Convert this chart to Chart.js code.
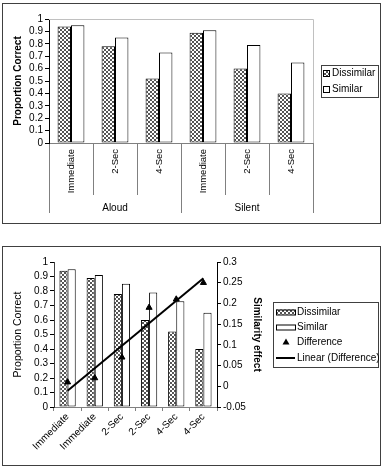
<!DOCTYPE html>
<html>
<head>
<meta charset="utf-8">
<script src="https://cdn.jsdelivr.net/npm/chart.js@4/dist/chart.umd.min.js"></script>
<style>
  body { margin: 0; background: #fff; }
  .box { position: absolute; left: 2px; border: 1px solid #404040; background: #fff; }
  #boxOne { top: 3px; width: 377px; height: 219px; }
  #boxTwo { top: 246px; width: 377px; height: 218px; }
  canvas { display: block; }
</style>
</head>
<body>
<div class="box" id="boxOne"><canvas id="chartOne" width="377" height="219"></canvas></div>
<div class="box" id="boxTwo"><canvas id="chartTwo" width="377" height="218"></canvas></div>
<script>
// top chart: grouped by mode
const groups = ['Aloud', 'Silent'];
const conditions = ['Immediate', '2-Sec', '4-Sec', 'Immediate', '2-Sec', '4-Sec'];
const dissimilarTop = [0.94, 0.78, 0.52, 0.89, 0.60, 0.40];
const similarTop = [0.95, 0.85, 0.73, 0.91, 0.79, 0.65];

// bottom chart: interleaved order + similarity effect
const orderLabels = ['Immediate', 'Immediate', '2-Sec', '2-Sec', '4-Sec', '4-Sec'];
const dissimilarBottom = [0.94, 0.89, 0.78, 0.60, 0.52, 0.40];
const similarBottom = [0.95, 0.91, 0.85, 0.79, 0.73, 0.65];
const difference = [0.01, 0.02, 0.07, 0.19, 0.21, 0.25];
const trendLine = [-0.011, null, null, null, null, 0.261];

const propTicks = [0, 1, 0.1];
const effectTicks = [-0.05, 0.3, 0.05];

Chart.defaults.font.family = 'Liberation Sans, Arial, sans-serif';
Chart.defaults.color = '#000';

// 4px diamond crosshatch, drawn pixel by pixel
function hatch() {
  const c = document.createElement('canvas');
  c.width = 4; c.height = 4;
  const g = c.getContext('2d');
  g.fillStyle = '#fff';
  g.fillRect(0, 0, 4, 4);
  g.fillStyle = '#555';
  for (let i = 0; i < 4; i++) {
    g.fillRect(i, i, 1, 1);
    g.fillRect(3 - i, i, 1, 1);
  }
  return g.createPattern(c, 'repeat');
}
const hatchFill = hatch();

const fmt = v => String(+v.toFixed(2));

// legend drawn inside the canvas
function boxLegend(id, box, items) {
  return {
    id: id,
    afterDraw(chart) {
      const ctx = chart.ctx;
      ctx.save();
      ctx.strokeStyle = '#404040';
      ctx.lineWidth = 1;
      ctx.strokeRect(box.x + 0.5, box.y + 0.5, box.w, box.h);
      ctx.font = '10px Liberation Sans, Arial, sans-serif';
      ctx.textBaseline = 'middle';
      items.forEach(it => {
        ctx.strokeStyle = '#000';
        ctx.fillStyle = '#000';
        if (it.kind === 'rect') {
          ctx.fillStyle = it.fill;
          ctx.fillRect(it.sx, it.y - it.sh / 2, it.sw, it.sh);
          ctx.strokeRect(it.sx + 0.5, it.y - it.sh / 2 + 0.5, it.sw, it.sh);
        } else if (it.kind === 'tri') {
          ctx.beginPath();
          ctx.moveTo(it.sx, it.y - 3.5);
          ctx.lineTo(it.sx + 3.5, it.y + 2.5);
          ctx.lineTo(it.sx - 3.5, it.y + 2.5);
          ctx.closePath();
          ctx.fill();
        } else if (it.kind === 'line') {
          ctx.lineWidth = 2;
          ctx.beginPath();
          ctx.moveTo(it.sx, it.y);
          ctx.lineTo(it.sx + it.sw, it.y);
          ctx.stroke();
          ctx.lineWidth = 1;
        }
        ctx.fillStyle = '#000';
        ctx.fillText(it.text, it.tx, it.y);
      });
      ctx.restore();
    }
  };
}

const plotFrame = {
  id: 'plotFrame',
  beforeDatasetsDraw(chart) {
    const a = chart.chartArea, ctx = chart.ctx;
    ctx.save();
    ctx.strokeStyle = '#c0c0c0';
    ctx.lineWidth = 1;
    ctx.beginPath();
    ctx.moveTo(a.left, a.top + 0.5);
    ctx.lineTo(a.right + 0.5, a.top + 0.5);
    ctx.lineTo(a.right + 0.5, a.bottom);
    ctx.stroke();
    ctx.restore();
  }
};

new Chart(document.getElementById('chartOne'), {
  type: 'bar',
  data: {
    labels: conditions,
    datasets: [
      { label: 'Dissimilar', data: dissimilarTop, backgroundColor: hatchFill },
      { label: 'Similar', data: similarTop, backgroundColor: '#fff' }
    ]
  },
  options: {
    responsive: false,
    animation: false,
    layout: { padding: { left: 0, top: 15, right: 67, bottom: 0 } },
    datasets: {
      bar: { borderColor: '#000', borderWidth: 1, borderSkipped: false, categoryPercentage: 0.61, barPercentage: 1 }
    },
    plugins: { legend: { display: false }, tooltip: { enabled: false } },
    scales: {
      x: {
        weight: 0,
        grid: { drawOnChartArea: false, color: '#808080', tickLength: 52, offset: true },
        border: { color: '#808080' },
        ticks: { autoSkip: false, minRotation: 90, maxRotation: 90, padding: -46, font: { size: 9.5 } },
        afterFit: s => { s.height = 52; }
      },
      x2: {
        type: 'category',
        labels: groups,
        position: 'bottom',
        weight: 1,
        offset: true,
        grid: { drawOnChartArea: false, color: '#808080', tickLength: 18, offset: true },
        border: { display: false },
        ticks: { padding: -11, font: { size: 10 } },
        afterFit: s => { s.height = 28; }
      },
      y: {
        min: propTicks[0], max: propTicks[1],
        grid: { drawOnChartArea: false, color: '#000', tickLength: 4 },
        border: { color: '#000' },
        ticks: { stepSize: propTicks[2], autoSkip: false, padding: 2, font: { size: 10 }, callback: fmt },
        title: { display: true, text: 'Proportion Correct', font: { size: 10, weight: 'bold' }, padding: { top: 9, bottom: 0 } },
        afterFit: s => { s.width = 46; }
      }
    }
  },
  plugins: [plotFrame, boxLegend('legendOne', { x: 318, y: 61, w: 57, h: 32 }, [
    { kind: 'rect', fill: hatchFill, sx: 320, sw: 6, sh: 6, y: 69, tx: 329, text: 'Dissimilar' },
    { kind: 'rect', fill: '#fff', sx: 320, sw: 6, sh: 6, y: 85, tx: 329, text: 'Similar' }
  ])]
});

new Chart(document.getElementById('chartTwo'), {
  data: {
    labels: orderLabels,
    datasets: [
      { type: 'line', label: 'Linear (Difference)', data: trendLine, yAxisID: 'y2', spanGaps: true,
        borderColor: '#000', borderWidth: 2, pointRadius: 0, order: 0 },
      { type: 'line', label: 'Difference', data: difference, yAxisID: 'y2', showLine: false,
        pointStyle: 'triangle', pointRadius: 3.5, pointBackgroundColor: '#000', pointBorderColor: '#000', order: 1 },
      { type: 'bar', label: 'Dissimilar', data: dissimilarBottom, backgroundColor: hatchFill, order: 2 },
      { type: 'bar', label: 'Similar', data: similarBottom, backgroundColor: '#fff', order: 3 }
    ]
  },
  options: {
    responsive: false,
    animation: false,
    layout: { padding: { left: 0, top: 15, right: 113, bottom: 0 } },
    datasets: {
      bar: { borderColor: '#000', borderWidth: 1, borderSkipped: false, categoryPercentage: 0.6, barPercentage: 1 }
    },
    plugins: { legend: { display: false }, tooltip: { enabled: false } },
    scales: {
      x: {
        offset: true,
        grid: { drawOnChartArea: false, color: '#808080', tickLength: 4, offset: true },
        border: { color: '#808080' },
        ticks: { autoSkip: false, minRotation: 45, maxRotation: 45, padding: 0, font: { size: 10 } },
        afterFit: s => { s.height = 58; }
      },
      y: {
        min: propTicks[0], max: propTicks[1],
        grid: { drawOnChartArea: false, color: '#000', tickLength: 4 },
        border: { color: '#404040' },
        ticks: { stepSize: propTicks[2], autoSkip: false, padding: 2, font: { size: 10 }, callback: fmt },
        title: { display: true, text: 'Proportion Correct', font: { size: 10.5 }, padding: { top: 9, bottom: 0 } },
        afterFit: s => { s.width = 51; }
      },
      y2: {
        position: 'right',
        min: effectTicks[0], max: effectTicks[1],
        grid: { drawOnChartArea: false, color: '#000', tickLength: 4 },
        border: { color: '#000' },
        ticks: { stepSize: effectTicks[2], autoSkip: false, padding: 2, font: { size: 10 }, callback: fmt },
        title: { display: true, text: 'Similarity effect', font: { size: 10, weight: 'bold' }, padding: { top: 4, bottom: 0 } },
        afterFit: s => { s.width = 50; }
      }
    }
  },
  plugins: [boxLegend('legendTwo', { x: 270, y: 55, w: 105, h: 65 }, [
    { kind: 'rect', fill: hatchFill, sx: 273, sw: 19, sh: 5, y: 65, tx: 294, text: 'Dissimilar' },
    { kind: 'rect', fill: '#fff', sx: 273, sw: 19, sh: 5, y: 80, tx: 294, text: 'Similar' },
    { kind: 'tri', sx: 283, y: 95, tx: 294, text: 'Difference' },
    { kind: 'line', sx: 273, sw: 19, y: 111, tx: 294, text: 'Linear (Difference)' }
  ])]
});
</script>
</body>
</html>
